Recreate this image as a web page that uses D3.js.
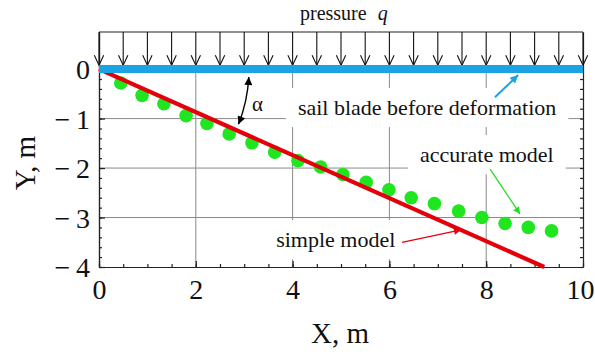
<!DOCTYPE html>
<html>
<head>
<meta charset="utf-8">
<script src="https://cdn.jsdelivr.net/npm/d3@7"></script>
<style>
  body { margin: 0; background: #fff; }
  svg { display: block; }
  svg text { font-family: "Liberation Serif", "Times New Roman", serif !important; }
</style>
</head>
<body>
<div id="chart"></div>
<script>
"use strict";

// data
var accurateX = [0.45, 0.89, 1.34, 1.80, 2.23, 2.69, 3.16, 3.63, 4.11, 4.58,
                 5.04, 5.52, 5.99, 6.45, 6.93, 7.43, 7.91, 8.39, 8.87, 9.35];
var accurateY = [-0.28, -0.53, -0.70, -0.94, -1.10, -1.31, -1.49, -1.68, -1.85, -1.98,
                 -2.13, -2.29, -2.44, -2.60, -2.72, -2.87, -3.00, -3.12, -3.20, -3.27];
var simpleX = [0, 9.2];
var simpleY = [0, -4];
var bladeX = [0, 10];
var bladeY = [0, 0];
var pressureX = [0, 0.5, 1, 1.5, 2, 2.5, 3, 3.5, 4, 4.5, 5, 5.5, 6, 6.5, 7, 7.5, 8, 8.5, 9, 9.5, 10];
var xTicks = [0, 2, 4, 6, 8, 10];
var yTicks = [0, -1, -2, -3, -4];
var xGrid = [2, 4, 6, 8];
var yGrid = [-1, -2, -3];

var W = 595, H = 358;
var svg = d3.select("#chart").append("svg").attr("width", W).attr("height", H);

var x = d3.scaleLinear().domain([0, 10]).range([99, 583]);
var y = d3.scaleLinear().domain([-4, 0.75]).range([267, 32]);

// markers for arrow heads
var defs = svg.append("defs");
function marker(id, color, len, wid) {
    defs.append("marker")
        .attr("id", id)
        .attr("markerUnits", "userSpaceOnUse")
        .attr("viewBox", "0 0 10 10")
        .attr("refX", 10).attr("refY", 5)
        .attr("markerWidth", len).attr("markerHeight", wid)
        .attr("orient", "auto-start-reverse")
        .append("path").attr("d", "M0,0L10,5L0,10Z").attr("fill", color);
}
marker("hBlack", "#000", 11, 8);
marker("hBlue", "#1ba3e3", 11, 8);
marker("hGreen", "#22dd22", 10, 7);
marker("hRed", "#e3000b", 11, 7);

// grid
var grid = svg.append("g").attr("stroke", "#8a8a8a").attr("stroke-width", 1);
grid.selectAll(".gx").data(xGrid).join("line")
    .attr("x1", d => x(d)).attr("x2", d => x(d))
    .attr("y1", y(0)).attr("y2", y(-4));
grid.selectAll(".gy").data(yGrid).join("line")
    .attr("x1", x(0)).attr("x2", x(10))
    .attr("y1", d => y(d)).attr("y2", d => y(d));

// annotation labels with white boxes that cut the grid
var labels = [
    {text: "sail blade before deformation", x: 4.11, y: -0.93},
    {text: "accurate model", x: 6.63, y: -1.88},
    {text: "simple model", x: 3.66, y: -3.6}
];
var lab = svg.append("g");
labels.forEach(function(l) {
    var g = lab.append("g");
    var r = g.append("rect").attr("fill", "#fff");
    var t = g.append("text")
        .attr("x", x(l.x)).attr("y", y(l.y))
        .attr("font-size", 22).attr("fill", "#111")
        .text(l.text);
    var b = t.node().getBBox();
    r.attr("x", b.x - 12).attr("y", b.y - 7)
     .attr("width", b.width + 24).attr("height", b.height + 14);
});

// axes: minor and major ticks pointing inward
svg.append("g").attr("transform", `translate(${x(0)},0)`)
    .call(d3.axisLeft(y).tickValues(d3.range(-4, 0.01, 0.2)).tickSize(-3).tickSizeOuter(0).tickFormat(""));
svg.append("g").attr("transform", `translate(${x(10)},0)`)
    .call(d3.axisRight(y).tickValues(d3.range(-4, 0.01, 0.2)).tickSize(-3).tickSizeOuter(0).tickFormat(""));
svg.append("g").attr("transform", `translate(0,${y(-4)})`)
    .call(d3.axisBottom(x).tickValues(d3.range(0, 10.01, 0.5)).tickSize(-3).tickSizeOuter(0).tickFormat(""));

var yAx = svg.append("g").attr("transform", `translate(${x(0)},0)`)
    .call(d3.axisLeft(y).tickValues(yTicks).tickSize(-6).tickSizeOuter(0).tickPadding(9)
        .tickFormat(d => d < 0 ? "\u2212\u2009" + Math.abs(d) : d));
var xAx = svg.append("g").attr("transform", `translate(0,${y(-4)})`)
    .call(d3.axisBottom(x).tickValues(xTicks).tickSize(-6).tickSizeOuter(0).tickPadding(12));

svg.selectAll(".tick line, .domain").attr("stroke", "#222").attr("stroke-width", 1.2);
svg.selectAll(".tick text").attr("font-size", 28).attr("fill", "#111");
yAx.selectAll(".tick text").attr("dy", "0.34em");
// keep the last label inside the window
xAx.selectAll(".tick text").filter(d => d === 10).attr("dx", -3);

// top frame line
svg.append("line").attr("x1", x(0)).attr("x2", x(10))
    .attr("y1", y(0.75)).attr("y2", y(0.75))
    .attr("stroke", "#222").attr("stroke-width", 1.2);

// pressure arrows
var pa = svg.append("g").attr("stroke", "#111").attr("stroke-width", 1.1).attr("fill", "none");
pa.selectAll("line").data(pressureX).join("line")
    .attr("x1", d => x(d)).attr("x2", d => x(d))
    .attr("y1", y(0.75)).attr("y2", y(0.08));
pa.selectAll("path").data(pressureX).join("path")
    .attr("d", d => `M${x(d) - 4.7},${y(0.08) - 10}L${x(d)},${y(0.08)}L${x(d) + 4.7},${y(0.08) - 10}`);

// accurate model dots
svg.append("g").selectAll("circle").data(accurateX).join("circle")
    .attr("cx", d => x(d)).attr("cy", (d, i) => y(accurateY[i]))
    .attr("r", 6.8).attr("fill", "#1fe61f");

// simple model line
var line = d3.line().x(d => x(d[0])).y(d => y(d[1]));
svg.append("path").datum(simpleX.map((d, i) => [d, simpleY[i]]))
    .attr("d", line).attr("stroke", "#e3000b").attr("stroke-width", 4.2).attr("fill", "none");

// sail blade before deformation
svg.append("path").datum(bladeX.map((d, i) => [d, bladeY[i]]))
    .attr("d", line).attr("stroke", "#1ba3e3").attr("stroke-width", 8).attr("fill", "none");

// pointer arrows
function pointer(x1, y1, x2, y2, color, head, w) {
    svg.append("line")
        .attr("x1", x(x1)).attr("y1", y(y1)).attr("x2", x(x2)).attr("y2", y(y2))
        .attr("stroke", color).attr("stroke-width", w)
        .attr("marker-end", `url(#${head})`);
}
pointer(8.18, -0.57, 8.66, -0.12, "#1ba3e3", "hBlue", 2);
pointer(8.08, -2.02, 8.70, -2.93, "#22dd22", "hGreen", 1.3);
pointer(6.26, -3.50, 7.48, -3.25, "#e3000b", "hRed", 1.3);

// angle alpha: arc around the origin
var ox = x(0), oy = y(0), R = 150;
var a1 = 3 * Math.PI / 180, a2 = 21.6 * Math.PI / 180;
svg.append("path")
    .attr("d", `M${ox + R * Math.cos(a1)},${oy + R * Math.sin(a1)}A${R},${R} 0 0 1 ${ox + R * Math.cos(a2)},${oy + R * Math.sin(a2)}`)
    .attr("fill", "none").attr("stroke", "#000").attr("stroke-width", 1.4)
    .attr("marker-start", "url(#hBlack)").attr("marker-end", "url(#hBlack)");
svg.append("text").attr("x", 252).attr("y", 111)
    .attr("font-size", 21).attr("fill", "#111").text("α");

// titles
svg.append("text").attr("x", 300).attr("y", 20).attr("font-size", 20).attr("fill", "#111")
    .text("pressure ")
    .append("tspan").attr("dx", 6).attr("font-style", "italic").text("q");
svg.append("text").attr("x", 340).attr("y", 343).attr("text-anchor", "middle")
    .attr("font-size", 29).attr("fill", "#111").text("X, m");
svg.append("text").attr("transform", "translate(35,163) rotate(-90)")
    .attr("text-anchor", "middle").attr("font-size", 29).attr("fill", "#111").text("Y, m");
</script>
</body>
</html>
